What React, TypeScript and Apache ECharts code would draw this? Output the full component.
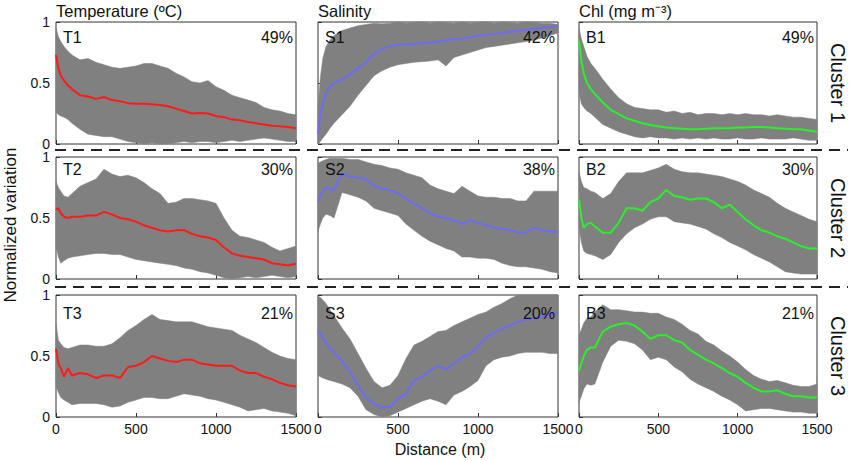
import React, { useEffect, useRef } from "react";
import * as echarts from "echarts";

// Distance (m) sample points
const distance = [0, 15, 30, 50, 75, 100, 150, 200, 250, 300, 350, 400, 450, 500, 550, 600, 650, 700, 750, 800, 850, 900, 950, 1000, 1050, 1100, 1150, 1200, 1250, 1300, 1350, 1400, 1450, 1500];

// Cluster 1
const t1Mean = [0.73, 0.62, 0.56, 0.52, 0.48, 0.45, 0.40, 0.39, 0.37, 0.385, 0.36, 0.35, 0.335, 0.33, 0.33, 0.325, 0.32, 0.31, 0.29, 0.27, 0.25, 0.255, 0.25, 0.23, 0.22, 0.20, 0.195, 0.18, 0.17, 0.16, 0.15, 0.145, 0.14, 0.13];
const t1Hi = [0.95, 0.88, 0.84, 0.80, 0.76, 0.73, 0.69, 0.70, 0.67, 0.65, 0.63, 0.62, 0.63, 0.64, 0.66, 0.66, 0.64, 0.62, 0.58, 0.55, 0.51, 0.50, 0.52, 0.47, 0.44, 0.40, 0.38, 0.36, 0.34, 0.30, 0.28, 0.27, 0.25, 0.24];
const t1Lo = [0.26, 0.24, 0.23, 0.22, 0.20, 0.17, 0.12, 0.08, 0.07, 0.06, 0.06, 0.04, 0.02, 0.01, 0.0, 0.01, 0.0, 0.0, 0.01, 0.02, 0.01, 0.02, 0.02, 0.01, 0.02, 0.03, 0.02, 0.03, 0.04, 0.05, 0.04, 0.03, 0.02, 0.02];

const s1Mean = [0.08, 0.25, 0.33, 0.42, 0.47, 0.50, 0.53, 0.57, 0.62, 0.67, 0.74, 0.78, 0.80, 0.815, 0.815, 0.82, 0.825, 0.83, 0.84, 0.85, 0.86, 0.865, 0.875, 0.89, 0.895, 0.90, 0.91, 0.92, 0.93, 0.935, 0.945, 0.95, 0.96, 0.97];
const s1Hi = [0.30, 0.55, 0.70, 0.80, 0.85, 0.89, 0.93, 0.95, 0.97, 0.98, 0.99, 0.985, 0.99, 1.0, 0.99, 0.995, 1.0, 0.99, 1.0, 0.995, 0.99, 1.0, 0.99, 0.995, 1.0, 0.99, 1.0, 0.995, 0.99, 1.0, 0.995, 0.99, 0.99, 0.98];
const s1Lo = [0.0, 0.02, 0.05, 0.08, 0.13, 0.17, 0.24, 0.31, 0.40, 0.48, 0.56, 0.60, 0.63, 0.65, 0.66, 0.67, 0.675, 0.68, 0.69, 0.64, 0.71, 0.73, 0.75, 0.77, 0.79, 0.80, 0.81, 0.82, 0.83, 0.84, 0.85, 0.87, 0.89, 0.91];

const b1Mean = [0.85, 0.68, 0.58, 0.50, 0.45, 0.41, 0.34, 0.28, 0.245, 0.21, 0.19, 0.17, 0.155, 0.145, 0.135, 0.13, 0.125, 0.12, 0.12, 0.125, 0.13, 0.13, 0.13, 0.135, 0.135, 0.14, 0.14, 0.135, 0.13, 0.125, 0.12, 0.12, 0.11, 0.10];
const b1Hi = [0.95, 0.86, 0.80, 0.72, 0.66, 0.62, 0.53, 0.45, 0.38, 0.33, 0.30, 0.29, 0.28, 0.28, 0.26, 0.27, 0.25, 0.26, 0.24, 0.25, 0.25, 0.24, 0.25, 0.24, 0.25, 0.24, 0.24, 0.23, 0.24, 0.23, 0.22, 0.22, 0.21, 0.20];
const b1Lo = [0.42, 0.33, 0.30, 0.27, 0.25, 0.22, 0.16, 0.13, 0.10, 0.08, 0.06, 0.05, 0.06, 0.05, 0.05, 0.04, 0.05, 0.04, 0.05, 0.04, 0.05, 0.04, 0.04, 0.05, 0.04, 0.04, 0.05, 0.04, 0.04, 0.04, 0.05, 0.04, 0.03, 0.03];

// Cluster 2
const t2Mean = [0.57, 0.58, 0.54, 0.51, 0.50, 0.51, 0.51, 0.52, 0.52, 0.55, 0.53, 0.50, 0.49, 0.47, 0.44, 0.42, 0.40, 0.39, 0.40, 0.40, 0.37, 0.35, 0.34, 0.32, 0.26, 0.21, 0.19, 0.18, 0.17, 0.16, 0.13, 0.12, 0.11, 0.125];
const t2Hi = [0.80, 0.75, 0.72, 0.68, 0.67, 0.70, 0.76, 0.79, 0.82, 0.90, 0.86, 0.84, 0.85, 0.83, 0.79, 0.74, 0.70, 0.62, 0.63, 0.66, 0.66, 0.65, 0.64, 0.62, 0.50, 0.40, 0.35, 0.34, 0.32, 0.30, 0.26, 0.23, 0.25, 0.27];
const t2Lo = [0.27, 0.18, 0.13, 0.15, 0.17, 0.18, 0.19, 0.20, 0.21, 0.21, 0.20, 0.20, 0.18, 0.16, 0.15, 0.14, 0.13, 0.12, 0.11, 0.09, 0.08, 0.06, 0.05, 0.03, 0.01, 0.0, 0.01, 0.02, 0.01, 0.02, 0.03, 0.02, 0.01, 0.02];

const s2Mean = [0.64, 0.68, 0.72, 0.75, 0.74, 0.73, 0.86, 0.84, 0.83, 0.82, 0.76, 0.74, 0.73, 0.70, 0.66, 0.62, 0.58, 0.54, 0.51, 0.50, 0.48, 0.45, 0.48, 0.46, 0.44, 0.42, 0.41, 0.40, 0.38, 0.38, 0.42, 0.40, 0.39, 0.385];
const s2Hi = [0.95, 0.96, 0.97, 0.98, 0.99, 0.99, 0.99, 0.98, 0.98, 0.96, 0.94, 0.93, 0.91, 0.90, 0.87, 0.85, 0.83, 0.77, 0.74, 0.72, 0.70, 0.76, 0.72, 0.68, 0.67, 0.67, 0.66, 0.66, 0.64, 0.64, 0.72, 0.72, 0.72, 0.72];
const s2Lo = [0.39, 0.45, 0.50, 0.53, 0.52, 0.50, 0.71, 0.69, 0.67, 0.64, 0.58, 0.56, 0.54, 0.52, 0.45, 0.40, 0.35, 0.31, 0.28, 0.25, 0.23, 0.18, 0.18, 0.17, 0.17, 0.16, 0.13, 0.11, 0.10, 0.10, 0.09, 0.08, 0.06, 0.05];

const b2Mean = [0.65, 0.50, 0.42, 0.45, 0.46, 0.43, 0.38, 0.38, 0.46, 0.58, 0.58, 0.56, 0.63, 0.66, 0.73, 0.68, 0.67, 0.65, 0.66, 0.66, 0.63, 0.58, 0.61, 0.55, 0.49, 0.44, 0.40, 0.38, 0.35, 0.33, 0.30, 0.27, 0.25, 0.25];
const b2Hi = [0.88, 0.80, 0.75, 0.74, 0.72, 0.71, 0.66, 0.70, 0.80, 0.87, 0.87, 0.87, 0.89, 0.91, 0.94, 0.90, 0.88, 0.87, 0.87, 0.86, 0.85, 0.84, 0.82, 0.80, 0.77, 0.73, 0.70, 0.67, 0.62, 0.58, 0.55, 0.52, 0.49, 0.47];
const b2Lo = [0.42, 0.30, 0.23, 0.21, 0.20, 0.19, 0.16, 0.20, 0.30, 0.37, 0.42, 0.45, 0.49, 0.51, 0.51, 0.47, 0.46, 0.45, 0.43, 0.41, 0.37, 0.34, 0.30, 0.27, 0.24, 0.20, 0.17, 0.14, 0.10, 0.06, 0.05, 0.04, 0.04, 0.04];

// Cluster 3
const t3Mean = [0.56, 0.44, 0.40, 0.33, 0.40, 0.34, 0.36, 0.35, 0.32, 0.34, 0.34, 0.32, 0.41, 0.42, 0.45, 0.50, 0.48, 0.46, 0.45, 0.47, 0.47, 0.44, 0.43, 0.42, 0.42, 0.42, 0.38, 0.36, 0.36, 0.33, 0.31, 0.28, 0.26, 0.25];
const t3Hi = [0.77, 0.63, 0.60, 0.57, 0.56, 0.57, 0.59, 0.59, 0.58, 0.58, 0.60, 0.65, 0.71, 0.75, 0.80, 0.84, 0.80, 0.79, 0.78, 0.78, 0.78, 0.76, 0.74, 0.73, 0.72, 0.71, 0.67, 0.64, 0.61, 0.57, 0.53, 0.50, 0.48, 0.47];
const t3Lo = [0.25, 0.20, 0.16, 0.14, 0.12, 0.10, 0.11, 0.11, 0.11, 0.10, 0.08, 0.09, 0.12, 0.14, 0.16, 0.16, 0.15, 0.15, 0.17, 0.19, 0.18, 0.17, 0.15, 0.14, 0.12, 0.10, 0.08, 0.05, 0.06, 0.07, 0.05, 0.04, 0.03, 0.01];

const s3Mean = [0.71, 0.68, 0.65, 0.61, 0.56, 0.53, 0.46, 0.37, 0.26, 0.16, 0.11, 0.08, 0.08, 0.15, 0.19, 0.30, 0.33, 0.38, 0.42, 0.39, 0.44, 0.49, 0.52, 0.58, 0.65, 0.69, 0.72, 0.75, 0.78, 0.80, 0.81, 0.82, 0.84, 0.85];
const s3Hi = [0.99, 0.98, 0.96, 0.93, 0.88, 0.83, 0.73, 0.64, 0.52, 0.40, 0.29, 0.24, 0.26, 0.34, 0.48, 0.59, 0.62, 0.66, 0.70, 0.71, 0.75, 0.78, 0.81, 0.84, 0.86, 0.90, 0.93, 0.97, 1.0, 1.0, 1.0, 1.0, 1.0, 1.0];
const s3Lo = [0.34, 0.33, 0.32, 0.31, 0.30, 0.29, 0.27, 0.24, 0.17, 0.06, 0.02, 0.0, 0.01, 0.04, 0.07, 0.10, 0.13, 0.15, 0.13, 0.10, 0.18, 0.21, 0.25, 0.30, 0.42, 0.47, 0.49, 0.50, 0.52, 0.53, 0.53, 0.53, 0.52, 0.52];

const b3Mean = [0.38, 0.44, 0.50, 0.55, 0.57, 0.57, 0.70, 0.74, 0.76, 0.77, 0.75, 0.70, 0.64, 0.67, 0.67, 0.63, 0.61, 0.55, 0.51, 0.47, 0.44, 0.40, 0.36, 0.33, 0.28, 0.24, 0.21, 0.21, 0.22, 0.19, 0.17, 0.17, 0.16, 0.16];
const b3Hi = [0.67, 0.72, 0.77, 0.81, 0.82, 0.86, 0.92, 0.88, 0.88, 0.87, 0.86, 0.86, 0.85, 0.85, 0.82, 0.80, 0.76, 0.71, 0.68, 0.62, 0.59, 0.54, 0.50, 0.45, 0.39, 0.34, 0.31, 0.29, 0.30, 0.28, 0.26, 0.25, 0.25, 0.27];
const b3Lo = [0.12, 0.17, 0.23, 0.27, 0.26, 0.27, 0.45, 0.58, 0.63, 0.62, 0.60, 0.55, 0.47, 0.49, 0.47, 0.41, 0.37, 0.31, 0.27, 0.24, 0.21, 0.17, 0.14, 0.10, 0.05, 0.06, 0.07, 0.07, 0.06, 0.05, 0.04, 0.04, 0.03, 0.03];

const columnTitles = ["Temperature (ºC)", "Salinity", "Chl (mg m⁻³)"];
const clusterLabels = ["Cluster 1", "Cluster 2", "Cluster 3"];
const panelTags = ["T1", "S1", "B1", "T2", "S2", "B2", "T3", "S3", "B3"];
const panelPercents = ["49%", "42%", "49%", "30%", "38%", "30%", "21%", "20%", "21%"];
const xTicks = [0, 500, 1000, 1500];
const yTicks = [0, 0.5, 1];

const RED = "#ff1a1a";
const BLUE = "#6b6bf5";
const GREEN = "#2af02a";
const GRAY = "#808080";
const FONT = "Liberation Sans, Arial, Helvetica, sans-serif";

const panels = [
  { mean: t1Mean, lo: t1Lo, hi: t1Hi, color: RED },
  { mean: s1Mean, lo: s1Lo, hi: s1Hi, color: BLUE },
  { mean: b1Mean, lo: b1Lo, hi: b1Hi, color: GREEN },
  { mean: t2Mean, lo: t2Lo, hi: t2Hi, color: RED },
  { mean: s2Mean, lo: s2Lo, hi: s2Hi, color: BLUE },
  { mean: b2Mean, lo: b2Lo, hi: b2Hi, color: GREEN },
  { mean: t3Mean, lo: t3Lo, hi: t3Hi, color: RED },
  { mean: s3Mean, lo: s3Lo, hi: s3Hi, color: BLUE },
  { mean: b3Mean, lo: b3Lo, hi: b3Hi, color: GREEN },
];

const colLeft = [56, 318, 579];
const colWidth = [240, 240, 238];
const rowTop = [22, 157, 295];
const rowHeight = [122, 122, 122];
const tagY = [37, 169, 313];

export default function App() {
  const ref = useRef<HTMLDivElement>(null);

  useEffect(() => {
    if (!ref.current) return;
    const chart = echarts.init(ref.current, undefined, { renderer: "svg" });

    const grids: any[] = [];
    const xAxes: any[] = [];
    const yAxes: any[] = [];
    const series: any[] = [];
    const graphics: any[] = [];

    panels.forEach((p, i) => {
      const r = Math.floor(i / 3);
      const c = i % 3;
      grids.push({
        left: colLeft[c],
        top: rowTop[r],
        width: colWidth[c],
        height: rowHeight[r],
        show: true,
        borderColor: "#333",
        borderWidth: 1,
        backgroundColor: "#fff",
        containLabel: false,
      });
      xAxes.push({
        gridIndex: i,
        type: "value",
        min: xTicks[0],
        max: xTicks[xTicks.length - 1],
        interval: 500,
        axisLine: { show: false },
        axisTick: { show: true, inside: true, length: 4, lineStyle: { color: "#333" } },
        splitLine: { show: false },
        axisLabel: {
          show: r === 2,
          fontSize: 14,
          fontFamily: FONT,
          color: "#111",
          margin: 5,
          formatter: (v: number) => String(v),
        },
      });
      yAxes.push({
        gridIndex: i,
        type: "value",
        min: yTicks[0],
        max: yTicks[yTicks.length - 1],
        interval: 0.5,
        axisLine: { show: false },
        axisTick: { show: true, inside: true, length: 4, lineStyle: { color: "#333" } },
        splitLine: { show: false },
        axisLabel: {
          show: c === 0,
          fontSize: 14,
          fontFamily: FONT,
          color: "#111",
          margin: 6,
          formatter: (v: number) => String(v),
        },
      });
      // gray band between lower and upper envelopes
      series.push({
        type: "custom",
        xAxisIndex: i,
        yAxisIndex: i,
        silent: true,
        z: 1,
        data: [0],
        renderItem: (params: any, api: any) => {
          const upper = distance.map((d, k) => api.coord([d, p.hi[k]]));
          const lower = distance.map((d, k) => api.coord([d, p.lo[k]])).reverse();
          return {
            type: "polygon",
            shape: { points: upper.concat(lower) },
            style: { fill: GRAY, stroke: GRAY, lineWidth: 0.5 },
          };
        },
      });
      series.push({
        type: "line",
        xAxisIndex: i,
        yAxisIndex: i,
        symbol: "none",
        silent: true,
        lineStyle: { width: 2, color: p.color },
        data: distance.map((d, k) => [d, p.mean[k]]),
        z: 3,
      });

      graphics.push({
        type: "text",
        x: colLeft[c] + 7,
        y: tagY[r],
        z: 100,
        style: {
          text: panelTags[i],
          fontSize: 16,
          fontFamily: FONT,
          fill: "#111",
          align: "left",
          verticalAlign: "middle",
        },
      });
      graphics.push({
        type: "text",
        x: colLeft[c] + colWidth[c] - 3,
        y: tagY[r],
        z: 100,
        style: {
          text: panelPercents[i],
          fontSize: 16,
          fontFamily: FONT,
          fill: "#111",
          align: "right",
          verticalAlign: "middle",
        },
      });
    });

    columnTitles.forEach((t, c) => {
      graphics.push({
        type: "text",
        x: colLeft[c],
        y: 11,
        style: {
          text: t,
          fontSize: 16.5,
          fontFamily: FONT,
          fill: "#111",
          align: "left",
          verticalAlign: "middle",
        },
      });
    });

    clusterLabels.forEach((t, r) => {
      graphics.push({
        type: "text",
        x: 838,
        y: rowTop[r] + rowHeight[r] / 2,
        rotation: -Math.PI / 2,
        style: {
          text: t,
          fontSize: 20,
          fontFamily: FONT,
          fill: "#111",
          align: "center",
          verticalAlign: "middle",
        },
      });
    });

    [150, 287].forEach((y) => {
      graphics.push({
        type: "line",
        shape: { x1: 55, y1: y, x2: 848, y2: y },
        style: { stroke: "#222", lineWidth: 2, lineDash: [11, 7] },
      });
    });

    graphics.push({
      type: "text",
      x: 10,
      y: 225,
      rotation: Math.PI / 2,
      style: {
        text: "Normalized variation",
        fontSize: 17,
        fontFamily: FONT,
        fill: "#111",
        align: "center",
        verticalAlign: "middle",
      },
    });
    graphics.push({
      type: "text",
      x: 440,
      y: 449,
      style: {
        text: "Distance (m)",
        fontSize: 16,
        fontFamily: FONT,
        fill: "#111",
        align: "center",
        verticalAlign: "middle",
      },
    });

    chart.setOption({
      animation: false,
      backgroundColor: "#fff",
      grid: grids,
      xAxis: xAxes,
      yAxis: yAxes,
      series,
      graphic: graphics,
    });

    return () => chart.dispose();
  }, []);

  return (
    <div
      ref={ref}
      style={{ position: "absolute", left: 0, top: 0, width: 851, height: 461 }}
    />
  );
}
